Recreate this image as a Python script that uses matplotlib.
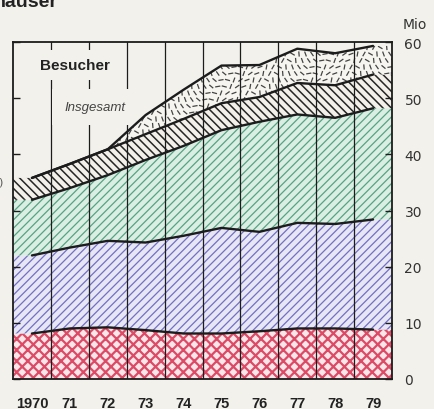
import numpy as np
import matplotlib
matplotlib.use('Agg')
import matplotlib.pyplot as plt
from matplotlib.collections import LineCollection

# Besucher in Mio, Obergrenzen der gestapelten Schichten (von unten nach oben)
years = [1970, 1971, 1972, 1973, 1974, 1975, 1976, 1977, 1978, 1979]
year_labels = ['1970', '71', '72', '73', '74', '75', '76', '77', '78', '79']
red_top = [8.1, 9.0, 9.2, 8.7, 8.1, 8.1, 8.5, 9.0, 9.0, 8.8]
blue_top = [22.0, 23.4, 24.6, 24.3, 25.5, 26.9, 26.2, 27.8, 27.6, 28.4]
green_top = [31.9, 34.0, 36.3, 39.0, 41.5, 44.3, 45.8, 47.1, 46.5, 48.2]
black_top = [35.8, 38.3, 40.9, 43.6, 46.3, 49.1, 50.2, 52.7, 52.3, 54.2]
total = [35.8, 38.3, 40.9, 47.0, 51.5, 55.8, 55.9, 58.8, 58.0, 59.3]
y_ticks = [0, 10, 20, 30, 40, 50, 60]

bg = '#f3f1eb'
ink = '#1c1c1c'

fig = plt.figure(figsize=(4.35, 4.10), dpi=100)
fig.patch.set_facecolor(bg)
ax = fig.add_axes([13/435, 30/410, 379/435, 337/410])
ax.set_facecolor(bg)

x = np.array(years, dtype=float)
x0, x1 = x[0] - 0.5, x[-1] + 0.5
xf = np.r_[x0, x, x1]


def pad(v):
    v = np.asarray(v, dtype=float)
    return np.r_[v[0], v, v[-1]]


def layer(lo, hi, face, hcol, hatch, hlw, z):
    coll = ax.fill_between(xf, lo, hi, facecolor=face, edgecolor=hcol,
                           hatch=hatch, lw=0, zorder=z)
    if hasattr(coll, 'set_hatch_linewidth'):
        coll.set_hatch_linewidth(hlw)
    return coll


zero = np.zeros(len(xf))
layer(zero, pad(red_top), '#f9e6e9', '#dc4a66', 'xxx', 1.6, 1)
layer(pad(red_top), pad(blue_top), '#e7e6f5', '#7270c2', '////', 0.9, 1)
layer(pad(blue_top), pad(green_top), '#dbeee4', '#56a383', '////', 0.9, 1)
layer(pad(green_top), pad(black_top), '#f2f0e9', '#262626', '\\' * 4, 1.1, 1)
stip = ax.fill_between(xf, pad(black_top), pad(total), facecolor='#f6f5f0',
                       lw=0, zorder=1)

# kurze Striche als Raster im obersten Band
W, H = 379.0, 337.0
ux, uy = (x1 - x0) / W, 60.0 / H
angles = [70, 110, 20, 140, 60, 165, 95, 35, 125, 80, 10, 150]
segs = []
step = 6.5
for i in range(int(H / step) + 2):
    for j in range(int(W / step) + 2):
        px = j * step + (i % 2) * step / 2
        py = i * step
        a = np.deg2rad(angles[(i * 5 + j * 7) % len(angles)])
        dx, dy = 2.6 * np.cos(a), 2.6 * np.sin(a)
        segs.append([(x0 + (px - dx) * ux, (py - dy) * uy),
                     (x0 + (px + dx) * ux, (py + dy) * uy)])
lc = LineCollection(segs, colors='#444444', linewidths=0.9, zorder=2)
ax.add_collection(lc)
lc.set_clip_path(stip.get_paths()[0], ax.transData)

# Spaltenlinien
for b in x[:-1] + 0.5:
    ax.axvline(b, color=ink, lw=0.9, zorder=3)

for v in [red_top, blue_top, green_top, black_top, total]:
    ax.plot(x, v, color=ink, lw=1.7, zorder=6, solid_capstyle='round')

ax.set_xlim(x0, x1)
ax.set_ylim(0, 60)
for s in ax.spines.values():
    s.set_color(ink)
    s.set_linewidth(1.3)

ax.set_xticks(x, year_labels)
ax.tick_params(axis='x', length=0, pad=12, labelsize=10.5, labelcolor='#222')
for lbl in ax.get_xticklabels():
    lbl.set_fontweight('bold')
    lbl.set_family('Liberation Sans')

ax.set_yticks(y_ticks)
ax.tick_params(axis='y', direction='in', length=5, width=1.0, color=ink,
               left=True, right=True, labelleft=False, labelright=True,
               labelsize=10, pad=9, labelcolor='#333')
ax.annotate('Mio', xy=(1, 60), xycoords=ax.get_yaxis_transform(),
            xytext=(8, 13), textcoords='offset points', ha='left', va='center',
            fontsize=10, color='#333')

ax.text(0.164, 0.932, 'Besucher', transform=ax.transAxes, ha='center',
        va='center', fontsize=11, fontweight='bold', family='Liberation Sans',
        color='#222', zorder=5,
        bbox=dict(boxstyle='square,pad=0.5', facecolor=bg, edgecolor='none'))
ax.text(0.216, 0.807, 'Insgesamt', transform=ax.transAxes, ha='center',
        va='center', fontsize=9.5, style='italic', family='Liberation Sans',
        color='#444', zorder=5,
        bbox=dict(boxstyle='square,pad=0.9', facecolor=bg, edgecolor='none'))

fig.text(58/435, 1 - 7/410, 'häuser', ha='right', va='baseline', fontsize=14,
         fontweight='bold', family='Liberation Sans', color='#222')
fig.text(-0.004, 1 - 183/410, ')', ha='left', va='center', fontsize=8,
         color='#555')

fig.savefig('out.png', dpi=100, facecolor=bg)
